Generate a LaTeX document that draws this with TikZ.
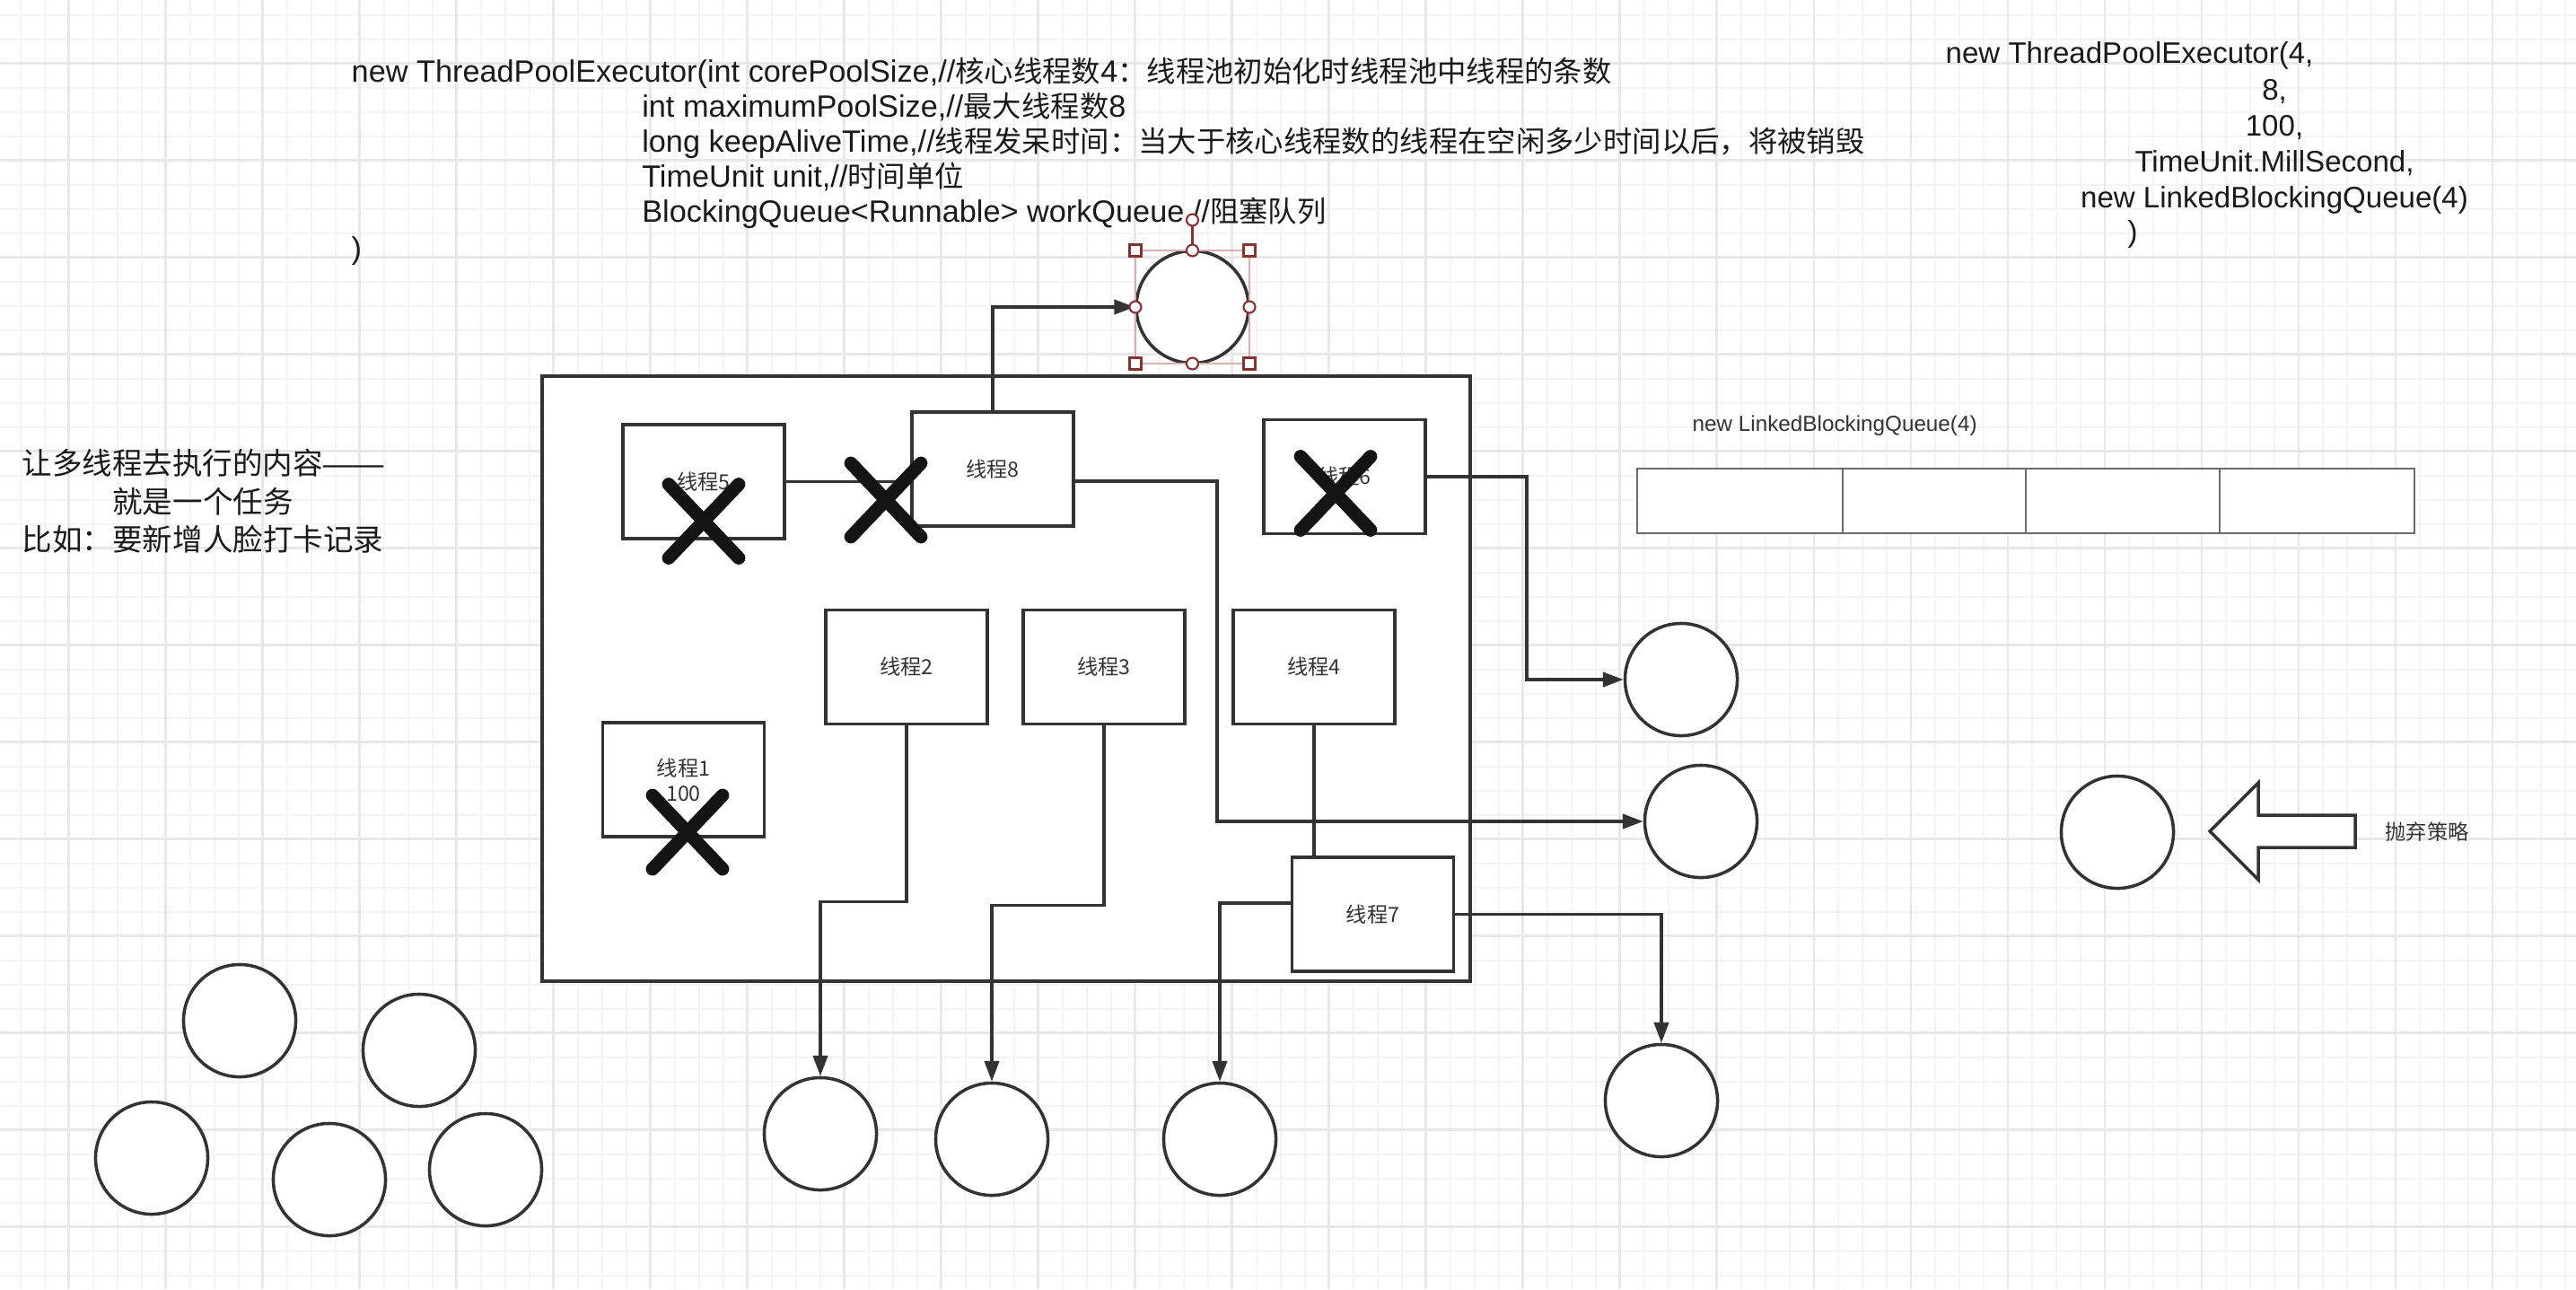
\documentclass[tikz,border=0pt]{standalone}
\usepackage{fontspec}
\setmainfont{Liberation Sans}
\newfontfamily\zh{Noto Sans CJK SC}[Scale=0.944]
\usetikzlibrary{arrows.meta}

\definecolor{clrline}{HTML}{333333}
\definecolor{clrtext}{HTML}{1A1A1A}
\definecolor{clrgrid}{HTML}{F4F4F4}
\definecolor{clrgridmajor}{HTML}{E8E8E8}
\definecolor{clrhandle}{HTML}{8B3030}
\definecolor{clrframe}{HTML}{D9AFAF}
\definecolor{clrqueue}{HTML}{6B6B6B}

\begin{document}
\begin{tikzpicture}[x=0.01cm,y=-0.01cm,
	thread/.style={draw=clrline,fill=white,line width=1pt,minimum width=1.8cm,minimum height=1.27cm,
		inner sep=0pt,align=center,text=clrline,font=\fontsize{7pt}{8pt}\selectfont\zh},
	task/.style={circle,draw=clrline,fill=white,line width=1pt,minimum size=1.25cm,inner sep=0pt},
	conn/.style={draw=clrline,line width=1pt},
	arr/.style={conn,-{Triangle[length=6.5pt,width=4.6pt]}},
	cross/.style={line width=4.2pt,line cap=round,color=black!92},
	handle/.style={draw=clrhandle,fill=white,line width=0.6pt},
	codetext/.style={anchor=base west,inner sep=0pt,text=clrtext,font=\fontsize{9.75pt}{11pt}\selectfont},
	calltext/.style={anchor=base,inner sep=0pt,text=clrtext,font=\fontsize{9.4pt}{11pt}\selectfont},
	notetext/.style={anchor=base,inner sep=0pt,text=clrtext,font=\fontsize{10.1pt}{12pt}\selectfont\zh},
	smalltext/.style={anchor=base west,inner sep=0pt,text=clrline,font=\fontsize{6.9pt}{8pt}\selectfont}]

\def\wid{2870}
\def\hei{1436}

% \crossout{centrex}{centrey}
\newcommand*{\crossout}[2]{
	\draw [cross] (#1-39,#2-41) -- (#1+39,#2+41) (#1+39,#2-41) -- (#1-39,#2+41);
}
% \handlebox{x}{y} and \handledot{x}{y}
\newcommand*{\handlebox}[2]{\draw [handle] (#1-6.5,#2-6.5) rectangle ++(13,13);}
\newcommand*{\handledot}[2]{\draw [handle] (#1,#2) circle [radius=6.5];}

	\fill [white] (0,0) rectangle (\wid,\hei);
	\useasboundingbox (0,0) rectangle (\wid,\hei);

	% background grid
	\foreach \i in {0,...,105}
		\draw [clrgrid,line width=0.5pt] ({22.7+27*\i},0) -- ({22.7+27*\i},\hei);
	\foreach \j in {0,...,52}
		\draw [clrgrid,line width=0.5pt] (0,{16.7+27*\j}) -- (\wid,{16.7+27*\j});
	\foreach \i in {0,...,25}
		\draw [clrgridmajor,line width=0.7pt] ({76.7+108*\i},0) -- ({76.7+108*\i},\hei);
	\foreach \j in {0,...,12}
		\draw [clrgridmajor,line width=0.7pt] (0,{70.7+108*\j}) -- (\wid,{70.7+108*\j});

	% constructor text
	\node [codetext] (arg1) at (391,91) {new ThreadPoolExecutor(int corePoolSize,//{\zh 核心线程数}4{\zh ：线程池初始化时线程池中线程的条数}};
	\node [codetext] (arg2) at (714.6,130) {int maximumPoolSize,//{\zh 最大线程数}8};
	\node [codetext] (arg3) at (714.6,169) {long keepAliveTime,//{\zh 线程发呆时间：当大于核心线程数的线程在空闲多少时间以后，将被销毁}};
	\node [codetext] (arg4) at (714.6,208) {TimeUnit unit,//{\zh 时间单位}};
	\node [codetext] (arg5) at (714.6,247) {BlockingQueue<Runnable> workQueue //{\zh 阻塞队列}};
	\node [codetext] (argend) at (391,288) {)};

	\node [calltext,anchor=base west] (call1) at (2167,70.5) {new ThreadPoolExecutor(4,};
	\node [calltext] (call2) at (2534,111.5) {8,};
	\node [calltext] (call3) at (2534,151.5) {100,};
	\node [calltext] (call4) at (2534,191.5) {TimeUnit.MillSecond,};
	\node [calltext] (call5) at (2534,231.5) {new LinkedBlockingQueue(4)};
	\node [calltext,anchor=base west] (callend) at (2370,269) {)};

	\node [notetext] (note1) at (226,528) {让多线程去执行的内容{\normalfont\fontsize{9.6pt}{12pt}\selectfont ——}};
	\node [notetext] (note2) at (226,571) {就是一个任务};
	\node [notetext] (note3) at (226,613) {比如：要新增人脸打卡记录};

	% thread pool
	\draw [conn,fill=white] (604,419) rectangle (1638,1093);

	\node [thread] (n5) at (784,536.5) {线程5};
	\node [thread] (n8) at (1106,522.5) {线程8};
	\node [thread] (n6) at (1498,531) {线程6};
	\node [thread] (n2) at (1010,743) {线程2};
	\node [thread] (n3) at (1230,743) {线程3};
	\node [thread] (n4) at (1464,743) {线程4};
	\node [thread] (n1) at (761.5,868.5) {线程1\\100};
	\node [thread] (n7) at (1529.5,1018.5) {线程7};

	% tasks
	\node [task] (ct) at (1328.5,342) {};
	\node [task] (c1) at (1873,757) {};
	\node [task] (c2) at (1895,915) {};
	\node [task] (c4) at (1851,1226) {};
	\node [task] (c5) at (914,1263) {};
	\node [task] (c6) at (1105,1269) {};
	\node [task] (c7) at (1359,1269) {};
	\node [task] (c8) at (2359,927) {};

	\node [task] (wa) at (267,1137) {};
	\node [task] (wb) at (467,1170) {};
	\node [task] (wc) at (169,1290) {};
	\node [task] (wd) at (367,1314) {};
	\node [task] (we) at (541,1303) {};

	% connectors
	\draw [conn] (n5.east) -- (n5.east -| n8.west);
	\draw [conn] (n4.south) -- (n4.south |- n7.north);
	\draw [arr] (n8.north) |- (ct.west);
	\draw [arr] ([yshift=-0.135cm]n8.east) -- ++(158,0) |- (c2.west);
	\draw [arr] (n6.east) -- ++(111,0) |- (c1.west);
	\draw [arr] (n7.east) -| (c4.north);
	\draw [arr] ([yshift=0.125cm]n7.west) -| (c7.north);
	\draw [arr] (n2.south) -- ++(0,196) -| (c5.north);
	\draw [arr] (n3.south) -- ++(0,200) -| (c6.north);

	\crossout{784}{580.5}
	\crossout{987}{557}
	\crossout{1488}{549.5}
	\crossout{766}{927}

	% queue
	\node [smalltext] (qlabel) at (1885,480.7) {new LinkedBlockingQueue(4)};
	\draw [draw=clrqueue,line width=0.6pt,fill=white] (1824,522) rectangle (2690,594);
	\foreach \x in {2053,2257,2473}
		\draw [draw=clrqueue,line width=0.6pt] (\x,522) -- (\x,594);

	% reject
	\draw [conn,fill=white] (2462,926) -- (2516,872) -- (2516,908) -- (2624,908) -- (2624,944)
		-- (2516,944) -- (2516,980) -- cycle;
	\node [anchor=base west,inner sep=0pt,text=clrline,font=\fontsize{7pt}{8pt}\selectfont\zh] (reject) at (2657,935) {抛弃策略};

	% selection handles
	\draw [clrframe,line width=0.6pt] (1265,279) rectangle (1392,405);
	\draw [clrhandle,line width=0.6pt] (1328.5,251.5) -- (1328.5,272.5);
	\handlebox{1265}{279}
	\handlebox{1392}{279}
	\handlebox{1265}{405}
	\handlebox{1392}{405}
	\handledot{1328.5}{279}
	\handledot{1328.5}{405}
	\handledot{1265}{342}
	\handledot{1392}{342}
	\handledot{1328.5}{245}

\end{tikzpicture}
\end{document}
